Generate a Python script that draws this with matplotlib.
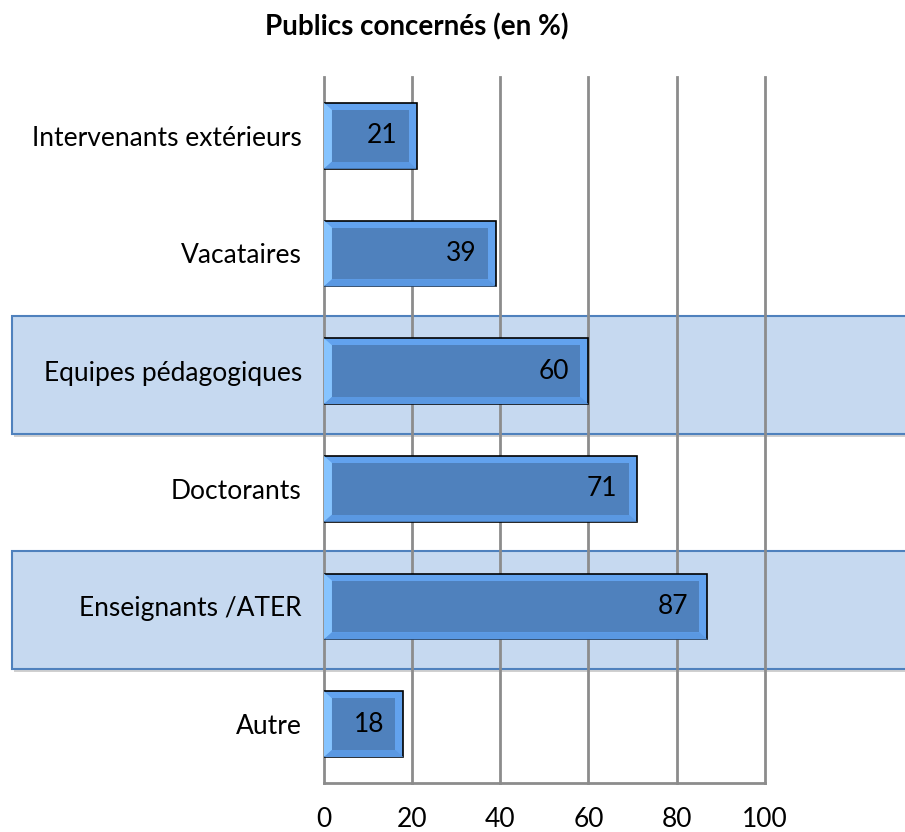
import matplotlib.pyplot as plt
from matplotlib.patches import Rectangle, Polygon
import matplotlib.transforms as mtransforms

categories = ["Intervenants extérieurs", "Vacataires", "Equipes pédagogiques",
              "Doctorants", "Enseignants /ATER", "Autre"]
values = [21, 39, 60, 71, 87, 18]
highlighted = ["Equipes pédagogiques", "Enseignants /ATER"]
xticks = [0, 20, 40, 60, 80, 100]

plt.rcParams['font.family'] = ['Lato', 'DejaVu Sans']

fig = plt.figure(figsize=(9.05, 8.32), dpi=100)
ax = fig.add_axes([0.358, 0.0589, 0.487, 0.8486])
ax.patch.set_alpha(0)

pos = list(range(len(categories)))
ax.set_ylim(len(categories) - 0.5, -0.5)
ax.set_xlim(0, 100)

# highlight bands across the whole figure width
band_tr = mtransforms.blended_transform_factory(fig.transFigure, ax.transData)
for i, cat in enumerate(categories):
    if cat in highlighted:
        shadow = Rectangle((0.016, i - 0.44), 1.0, 1.0, transform=band_tr,
                           facecolor='#d0d0d0', edgecolor='none', zorder=-3)
        fig.add_artist(shadow)
        band = Rectangle((0.013, i - 0.47), 1.0, 1.0, transform=band_tr,
                         facecolor='#c6d9f0', edgecolor='#4f81bd', lw=1.5, zorder=-2)
        fig.add_artist(band)

# grid
for t in xticks:
    ax.axvline(t, color='#8c8c8c', lw=2, zorder=1, clip_on=False)

bar_h = 0.56
dx = 1.8
dy = 0.06
ax.barh(pos, values, height=bar_h, color='#62a2ee', edgecolor='black', lw=1.2, zorder=2)
for i, v in enumerate(values):
    y0, y1 = i - bar_h / 2, i + bar_h / 2
    left = Polygon([(0, y0), (dx, y0 + dy), (dx, y1 - dy), (0, y1)],
                   facecolor='#86c4ff', edgecolor='none', zorder=3)
    ax.add_patch(left)
    bottom = Polygon([(0, y1), (dx, y1 - dy), (v - dx, y1 - dy), (v, y1)],
                     facecolor='#5a98e2', edgecolor='none', zorder=3)
    ax.add_patch(bottom)
ax.barh(pos, [v - 2 * dx for v in values], left=dx, height=bar_h - 2 * dy,
        color='#4f81bd', edgecolor='none', zorder=4)
for i, v in enumerate(values):
    ax.text(v - 2 * dx - 0.8, i, str(v), ha='right', va='center', fontsize=19, zorder=5)

ax.set_yticks(pos)
ax.set_yticklabels(categories, fontsize=19)
ax.set_xticks(xticks)
ax.set_xticklabels([str(t) for t in xticks], fontsize=19)
ax.tick_params(axis='both', length=0)
ax.tick_params(axis='y', pad=16)
ax.tick_params(axis='x', pad=17)
for s in ['top', 'right', 'left']:
    ax.spines[s].set_visible(False)
ax.spines['bottom'].set_color('#8c8c8c')
ax.spines['bottom'].set_linewidth(2)

fig.text(0.461, 0.968, "Publics concernés (en %)", ha='center', va='center',
         fontsize=20, fontweight='bold')

fig.savefig('out.png', dpi=100)
